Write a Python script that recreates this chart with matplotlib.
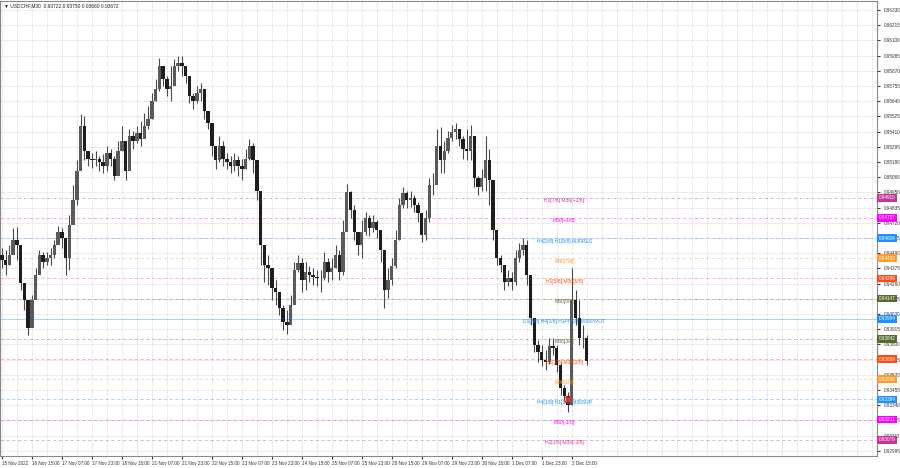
import numpy as np
import matplotlib
matplotlib.use("Agg")
import matplotlib.pyplot as plt
import matplotlib.transforms as mtransforms

plt.rcParams["font.family"] = ["Liberation Sans", "DejaVu Sans"]

# USDCHF M30, shown as 2-hour groups (4 bars each)
closes = [
    0.94436, 0.94398, 0.94474, 0.94587, 0.94549, 0.94262, 0.94134, 0.93923, 0.94134, 0.94323,
    0.94474, 0.94421, 0.94451, 0.94474, 0.94549, 0.94647, 0.94602, 0.94451, 0.94700, 0.94889,
    0.95115, 0.95455, 0.95266, 0.95206, 0.95191, 0.95206, 0.95176, 0.95153, 0.95251, 0.95206,
    0.95077, 0.95266, 0.95342, 0.95115, 0.95379, 0.95342, 0.95402, 0.95357, 0.95455, 0.95508,
    0.95643, 0.95734, 0.95907, 0.95809, 0.95734, 0.95757, 0.95907, 0.95930, 0.95907, 0.95832,
    0.95681, 0.95643, 0.95704, 0.95734, 0.95568, 0.95477, 0.95304, 0.95191, 0.95304, 0.95206,
    0.95176, 0.95153, 0.95191, 0.95153, 0.95130, 0.95206, 0.95304, 0.95191, 0.94964, 0.94549,
    0.94398, 0.94376, 0.94225, 0.94195, 0.94074, 0.93968, 0.93945, 0.94096, 0.94361, 0.94413,
    0.94285, 0.94345, 0.94323, 0.94308, 0.94300, 0.94300, 0.94421, 0.94345, 0.94376, 0.94474,
    0.94345, 0.94647, 0.94949, 0.94813, 0.94647, 0.94549, 0.94647, 0.94753, 0.94678, 0.94723,
    0.94662, 0.94512, 0.94210, 0.94285, 0.94391, 0.94587, 0.94851, 0.94942, 0.94889, 0.94904,
    0.94851, 0.94791, 0.94625, 0.94753, 0.95002, 0.95002, 0.95304, 0.95191, 0.95266, 0.95364,
    0.95409, 0.95432, 0.95357, 0.95281, 0.95266, 0.95379, 0.95055, 0.94987, 0.95055, 0.95191,
    0.95040, 0.94662, 0.94451, 0.94398, 0.94270, 0.94300, 0.94270, 0.94451, 0.94512, 0.94549,
    0.94323, 0.93998, 0.93795, 0.93742, 0.93681, 0.93666, 0.93787, 0.93772, 0.93644, 0.93470,
    0.93410, 0.93342, 0.94134, 0.93998, 0.93848, 0.93848, 0.93672,
]
highs = [
    0.94527, 0.94512, 0.94549, 0.94678, 0.94685, 0.94421, 0.94247, 0.94134, 0.94172, 0.94376,
    0.94512, 0.94496, 0.94496, 0.94527, 0.94587, 0.94693, 0.94678, 0.94587, 0.94776, 0.95002,
    0.95191, 0.95545, 0.95530, 0.95266, 0.95251, 0.95266, 0.95228, 0.95243, 0.95304, 0.95281,
    0.95228, 0.95342, 0.95455, 0.95342, 0.95432, 0.95417, 0.95455, 0.95492, 0.95553, 0.95606,
    0.95704, 0.95809, 0.95968, 0.95907, 0.95832, 0.95907, 0.95960, 0.95983, 0.95983, 0.95900,
    0.95794, 0.95704, 0.95757, 0.95779, 0.95704, 0.95568, 0.95432, 0.95304, 0.95379, 0.95342,
    0.95251, 0.95228, 0.95251, 0.95228, 0.95206, 0.95281, 0.95357, 0.95327, 0.95153, 0.94889,
    0.94512, 0.94474, 0.94323, 0.94285, 0.94195, 0.94096, 0.94059, 0.94172, 0.94421, 0.94474,
    0.94451, 0.94421, 0.94391, 0.94376, 0.94361, 0.94361, 0.94496, 0.94451, 0.94451, 0.94549,
    0.94512, 0.94738, 0.95017, 0.94964, 0.94851, 0.94647, 0.94738, 0.94798, 0.94776, 0.94776,
    0.94738, 0.94647, 0.94474, 0.94376, 0.94451, 0.94662, 0.94904, 0.94994, 0.94964, 0.94964,
    0.94927, 0.94874, 0.94753, 0.94813, 0.95055, 0.95100, 0.95432, 0.95447, 0.95342, 0.95417,
    0.95462, 0.95477, 0.95432, 0.95379, 0.95432, 0.95462, 0.95266, 0.95077, 0.95130, 0.95379,
    0.95281, 0.94927, 0.94587, 0.94474, 0.94398, 0.94361, 0.94345, 0.94512, 0.94564, 0.94602,
    0.94587, 0.94285, 0.93983, 0.93832, 0.93795, 0.93757, 0.93848, 0.93848, 0.93795, 0.93666,
    0.93493, 0.93440, 0.94376, 0.94210, 0.94134, 0.93945, 0.93870,
]
lows = [
    0.94376, 0.94323, 0.94398, 0.94512, 0.94436, 0.94210, 0.94059, 0.93870, 0.93945, 0.94210,
    0.94398, 0.94376, 0.94398, 0.94398, 0.94451, 0.94587, 0.94527, 0.94323, 0.94361, 0.94776,
    0.94851, 0.95191, 0.95191, 0.95153, 0.95138, 0.95153, 0.95115, 0.95093, 0.95115, 0.95153,
    0.95040, 0.95153, 0.95266, 0.95040, 0.95191, 0.95281, 0.95327, 0.95304, 0.95379, 0.95432,
    0.95508, 0.95643, 0.95719, 0.95757, 0.95681, 0.95643, 0.95832, 0.95870, 0.95832, 0.95779,
    0.95628, 0.95583, 0.95628, 0.95643, 0.95508, 0.95432, 0.95228, 0.95130, 0.95176, 0.95153,
    0.95130, 0.95100, 0.95115, 0.95077, 0.95040, 0.95130, 0.95191, 0.95100, 0.94889, 0.94398,
    0.94270, 0.94247, 0.94134, 0.94096, 0.94021, 0.93908, 0.93878, 0.93983, 0.94134, 0.94345,
    0.94195, 0.94210, 0.94270, 0.94247, 0.94240, 0.94195, 0.94285, 0.94270, 0.94285, 0.94376,
    0.94285, 0.94323, 0.94662, 0.94753, 0.94587, 0.94474, 0.94451, 0.94625, 0.94617, 0.94647,
    0.94602, 0.94421, 0.94074, 0.94149, 0.94247, 0.94376, 0.94587, 0.94828, 0.94828, 0.94843,
    0.94798, 0.94723, 0.94572, 0.94587, 0.94723, 0.94927, 0.95077, 0.95100, 0.95100, 0.95251,
    0.95342, 0.95357, 0.95304, 0.95206, 0.95191, 0.95191, 0.94987, 0.94927, 0.94964, 0.94964,
    0.94851, 0.94587, 0.94398, 0.94345, 0.94210, 0.94240, 0.94210, 0.94247, 0.94421, 0.94474,
    0.94247, 0.93945, 0.93742, 0.93666, 0.93636, 0.93606, 0.93651, 0.93719, 0.93591, 0.93417,
    0.93364, 0.93289, 0.93342, 0.93945, 0.93795, 0.93772, 0.93644,
]
first_open = 0.94474

date_labels = ["15 Nov 2022", "16 Nov 15:00", "17 Nov 07:00", "17 Nov 23:00", "18 Nov 15:00",
               "21 Nov 07:00", "21 Nov 23:00", "22 Nov 15:00", "23 Nov 07:00", "23 Nov 23:00",
               "24 Nov 15:00", "25 Nov 07:00", "25 Nov 23:00", "28 Nov 15:00", "29 Nov 07:00",
               "29 Nov 23:00", "30 Nov 15:00", "1 Dec 07:00", "1 Dec 23:00", "2 Dec 15:00"]

# Murrey math style levels
level_prices = [0.94910, 0.94757, 0.94604, 0.94452, 0.94299, 0.94147, 0.93994,
                0.93842, 0.93689, 0.93536, 0.93384, 0.93231, 0.93079]
level_names = ["H1[7/8] M30[+2/8]", "M30[+1/8]", "H4[3/8] H1[8/8] M30RES", "M30[7/8]",
               "H1[5/8] M30[6/8]", "M30[5/8]", "D1[5/8] H4[2/8] H1PIVOT M30PIVOT", "M30[3/8]",
               "H1[3/8] M30[2/8]", "M30[1/8]", "H4[1/8] H1[2/8] M30SUP", "M30[-1/8]",
               "H1[1/8] M30[-2/8]"]
level_colors = ["#c8359a", "#ff00ff", "#1e90ff", "#ff9a2e", "#ff4a12", "#5a6b30", "#1e90ff",
                "#5a6b30", "#ff4a12", "#ff9a2e", "#1e90ff", "#ff00ff", "#c8359a"]

marker_idx = 151
marker_price = 0.93384

closes = np.array(closes)
highs = np.array(highs)
lows = np.array(lows)
opens = np.r_[first_open, closes[:-1]]
idx = np.arange(len(closes))

fig = plt.figure(figsize=(9, 4.68), dpi=100)
ax = fig.add_axes([0.0, 0.026, 0.9744, 0.972])

ax.set_xlim(-0.5, 233.4)
ax.set_ylim(0.92957, 0.96398)

# grid
yt = 0.92995 + 0.00115 * np.arange(30)
ax.set_yticks(yt)
ax.set_yticklabels([f"{v:.5f}" for v in yt])
ax.set_xticks(np.arange(0, 234, 4), minor=True)
ax.set_xticks(np.arange(len(date_labels)) * 8)
ax.set_xticklabels(date_labels, ha="left")
ax.grid(True, which="both", color="#e4e4e4", lw=0.5)
ax.set_axisbelow(True)

# level lines and labels
tr = mtransforms.blended_transform_factory(ax.transAxes, ax.transData)
for p, name, col in zip(level_prices, level_names, level_colors):
    ls = "-" if "PIVOT" in name else (0, (4, 3))
    ax.axhline(p, color=col, lw=0.6, ls=ls, alpha=0.45, zorder=1)
    ax.annotate(name, (150, p), xytext=(0, -3), textcoords="offset pixels",
                ha="center", va="center", fontsize=3.6, color=col, zorder=4)
    ax.text(1.002, p, f"{p:.5f}", transform=tr, fontsize=3.3, color="white",
            va="center", ha="left", zorder=5, clip_on=False,
            bbox=dict(boxstyle="square,pad=0.3", fc=col, ec="none"))

# candles
up = closes >= opens
ax.vlines(idx, lows, highs, color="#4a4a4a", lw=0.8, zorder=2)
ax.bar(idx, closes - opens, bottom=opens, width=0.9,
       color=np.where(up, "#5a5a5a", "#1e1e1e"), edgecolor="none", zorder=3)

ax.plot(marker_idx, marker_price, marker="x", color="#e8322c", ms=5, mew=1.8, zorder=6)

ax.yaxis.tick_right()
ax.tick_params(axis="y", labelsize=3.3, length=2, pad=3, colors="#333333")
ax.tick_params(axis="x", labelsize=3.3, length=2, pad=2, colors="#333333")
ax.tick_params(which="minor", length=0)
for s in ax.spines.values():
    s.set_color("#888888")
    s.set_linewidth(0.8)

fig.text(0.004, 0.993, "\u25bc USDCHF,M30  0.93722 0.93750 0.93660 0.93672",
         fontsize=3.5, color="#222222", va="top", ha="left")

fig.savefig("out.png", dpi=100)
